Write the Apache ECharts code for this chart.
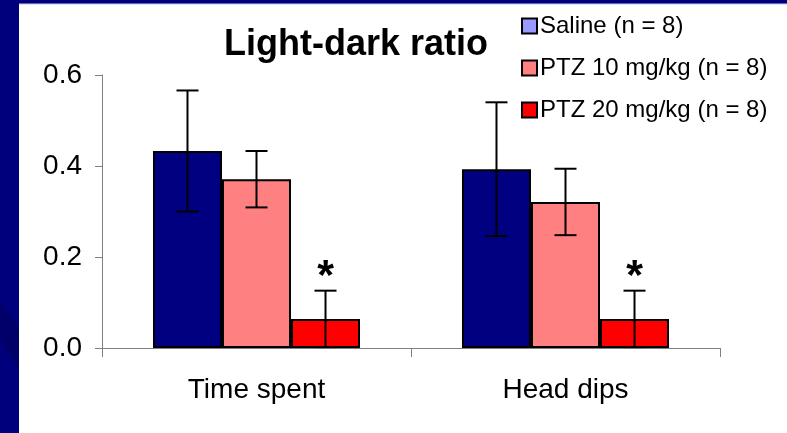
<!DOCTYPE html>
<html>
<head>
<meta charset="utf-8">
<script src="https://cdn.jsdelivr.net/npm/echarts@6/dist/echarts.min.js"></script>
<style>
  html, body { margin: 0; padding: 0; background: #00007c; }
  #chartData { width: 787px; height: 433px; }
</style>
</head>
<body>
<div id="chartData"></div>
<script>
// data
var categories = ['Time spent', 'Head dips'];
var seriesNames = ['Saline (n = 8)', 'PTZ 10 mg/kg (n = 8)', 'PTZ 20 mg/kg (n = 8)'];
var saline    = [0.433, 0.393];
var salineErr = [0.133, 0.147];
var ptz10     = [0.371, 0.321];
var ptz10Err  = [0.062, 0.073];
var ptz20     = [0.064, 0.064];
var ptz20Err  = [0.062, 0.062];
var stars     = ['*', '*'];
var yTicks    = [0, 0.2, 0.4, 0.6];

var barColors    = ['#000080', '#ff8080', '#ff0000'];
var legendColors = ['#9999ff', '#ff8080', '#ff0000'];
var catGap = 0.33;
var font = '"Liberation Sans", Arial, sans-serif';

var myChart = echarts.init(document.getElementById('chartData'));

// error bars drawn per group, offset inside the category band
function errSeries(means, errs, slot, marks) {
    var data = means.map(function (m, i) { return [i, m, errs[i]]; });
    return {
        type: 'custom',
        z: 5,
        silent: true,
        data: data,
        renderItem: function (params, api) {
            var i = api.value(0), m = api.value(1), e = api.value(2);
            var band = api.size([1, 0])[0];
            var bw = band * (1 - catGap) / 3;
            var x = api.coord([i, 0])[0] + (slot - 1) * bw;
            var yt = api.coord([i, m + e])[1];
            var yb = api.coord([i, Math.max(m - e, 0)])[1];
            var cap = 11;
            var st = { stroke: '#000', lineWidth: 2 };
            var kids = [
                { type: 'line', shape: { x1: x, y1: yt, x2: x, y2: yb }, style: st },
                { type: 'line', shape: { x1: x - cap, y1: yt, x2: x + cap, y2: yt }, style: st },
                { type: 'line', shape: { x1: x - cap, y1: yb, x2: x + cap, y2: yb }, style: st }
            ];
            if (marks && marks[i]) {
                kids.push({
                    type: 'text',
                    style: {
                        text: marks[i], x: x, y: yt + 8,
                        align: 'center', verticalAlign: 'bottom',
                        font: 'bold 43px ' + font, fill: '#000'
                    }
                });
            }
            return { type: 'group', children: kids };
        }
    };
}

function barSeries(name, values, idx) {
    return {
        name: name,
        type: 'bar',
        data: values,
        barGap: '0%',
        barCategoryGap: (catGap * 100) + '%',
        itemStyle: { color: barColors[idx], borderColor: '#000', borderWidth: 2 }
    };
}

var option = {
    animation: false,
    backgroundColor: 'transparent',
    graphic: [
        { type: 'rect', z: -10, shape: { x: 19, y: 4, width: 768, height: 429 },
          style: { fill: '#ffffff' } },
        { type: 'line', z: -9, shape: { x1: 19, y1: 4, x2: 787, y2: 4 },
          style: { stroke: '#c8c8f0', lineWidth: 1 } },
        { type: 'polygon', z: -11, shape: { points: [[0, 300], [19, 330], [19, 370], [0, 340]] },
          style: { fill: '#000068' } }
    ],
    title: {
        text: 'Light-dark ratio',
        left: 351,
        top: 22,
        textAlign: 'center',
        textStyle: { fontFamily: font, fontSize: 36, fontWeight: 'bold', color: '#000' }
    },
    legend: {
        orient: 'vertical',
        left: 516,
        top: 9,
        itemWidth: 15,
        itemHeight: 15,
        itemGap: 18,
        icon: 'rect',
        textStyle: { fontFamily: font, fontSize: 24, color: '#000', padding: [0, 0, 0, -2] },
        data: seriesNames.map(function (n, i) {
            return { name: n, itemStyle: { color: legendColors[i], borderColor: '#000', borderWidth: 2 } };
        })
    },
    grid: { left: 102, right: 67, top: 75, bottom: 85 },
    xAxis: {
        type: 'category',
        data: categories,
        axisLine: { lineStyle: { color: '#808080', width: 1 } },
        axisTick: { show: true, length: 9, lineStyle: { color: '#808080' } },
        axisLabel: { fontFamily: font, fontSize: 28, color: '#000', margin: 28 }
    },
    yAxis: {
        type: 'value',
        min: yTicks[0],
        max: yTicks[yTicks.length - 1],
        interval: 0.2,
        splitLine: { show: false },
        axisLine: { show: true, lineStyle: { color: '#808080', width: 1 } },
        axisTick: { show: true, length: 7, lineStyle: { color: '#808080' } },
        axisLabel: {
            fontFamily: font, fontSize: 28, color: '#000', margin: 20,
            formatter: function (v) { return v.toFixed(1); }
        }
    },
    series: [
        barSeries(seriesNames[0], saline, 0),
        barSeries(seriesNames[1], ptz10, 1),
        barSeries(seriesNames[2], ptz20, 2),
        errSeries(saline, salineErr, 0),
        errSeries(ptz10, ptz10Err, 1),
        errSeries(ptz20, ptz20Err, 2, stars)
    ]
};

myChart.setOption(option);
</script>
</body>
</html>
